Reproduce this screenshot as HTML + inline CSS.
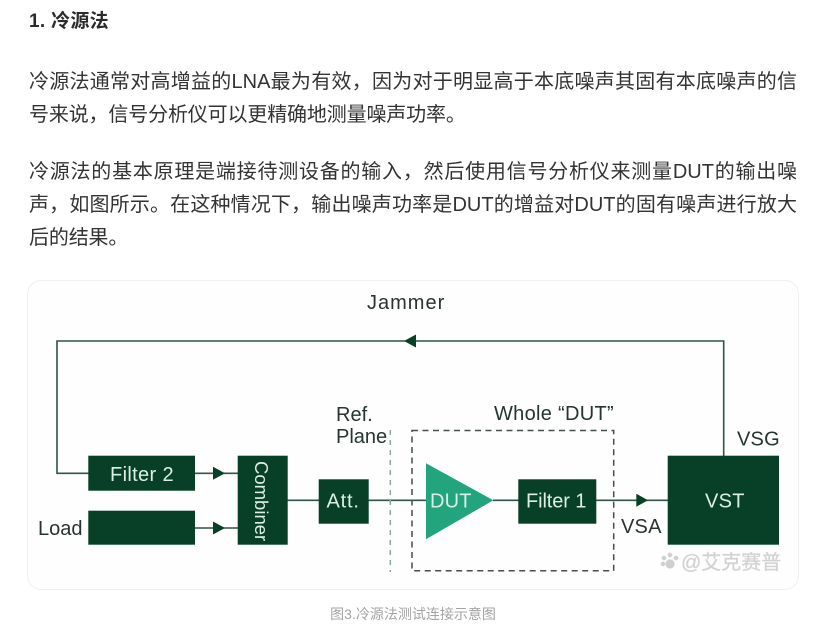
<!DOCTYPE html>
<html lang="zh">
<head>
<meta charset="utf-8">
<style>
html,body{margin:0;padding:0;background:#fff}
body{width:840px;height:637px;position:relative;overflow:hidden;font-family:"Liberation Sans","Noto Sans CJK SC",sans-serif;color:#333}
.t{position:absolute;left:29px;white-space:nowrap;font-size:20px;line-height:33px;letter-spacing:-.15px}
.j{width:768px;white-space:normal;letter-spacing:0;text-align:justify;text-align-last:justify}
.h{position:absolute;left:29px;top:5px;font-size:19px;line-height:33px;font-weight:bold;white-space:nowrap;color:#2b2b2b;letter-spacing:.3px}
.panel{position:absolute;left:27px;top:280px;box-sizing:border-box;width:772px;height:310px;border:1px solid #efefef;border-radius:14px;background:#fdfefd}
.cap{position:absolute;left:0;width:826px;top:604px;text-align:center;font-size:14px;line-height:20px;color:#a3a3a3;white-space:nowrap}
svg{position:absolute;left:0;top:0;filter:blur(.35px)}
svg text{font-family:"Liberation Sans","Noto Sans CJK SC",sans-serif}
</style>
</head>
<body>
<div class="h">1. 冷源法</div>
<div class="t j" style="top:66px">冷源法通常对高增益的LNA最为有效，因为对于明显高于本底噪声其固有本底噪声的信</div>
<div class="t" style="top:99px">号来说，信号分析仪可以更精确地测量噪声功率。</div>
<div class="t j" style="top:156px">冷源法的基本原理是端接待测设备的输入，然后使用信号分析仪来测量DUT的输出噪</div>
<div class="t j" style="top:189px">声，如图所示。在这种情况下，输出噪声功率是DUT的增益对DUT的固有噪声进行放大</div>
<div class="t" style="top:222px">后的结果。</div>
<div class="panel"></div>
<svg width="840" height="637" viewBox="0 0 840 637">
  <g fill="none" stroke="#2f5546" stroke-width="1.6">
    <path d="M723.7 456V341H57V473.3H89"/>
    <path d="M195 473.3H238M195 528H238M287 500.3H319M368 500.3H427M493 500.3H519M596 500.3H668"/>
  </g>
  <g fill="#073f27">
    <path d="M404 341L416 334.5V347.5Z"/>
    <path d="M225 473.3L213 466.8V479.8Z"/>
    <path d="M225 528L213 521.5V534.5Z"/>
    <path d="M648 500.3L636.3 493.8V506.8Z"/>
    <rect x="88.3" y="455.7" width="106.7" height="35"/>
    <rect x="88.3" y="510.7" width="106.7" height="34"/>
    <rect x="237.7" y="455.7" width="50" height="89"/>
    <rect x="318.7" y="479.3" width="50" height="44.4"/>
    <rect x="518.3" y="479.3" width="78" height="44.4"/>
    <rect x="667.7" y="455.7" width="111.3" height="89"/>
  </g>
  <path d="M426 463.3V539.3L493.3 500.3Z" fill="#22a57c"/>
  <line x1="390.3" y1="430" x2="390.3" y2="572" stroke="#8fa89d" stroke-width="1.5" stroke-dasharray="5 5"/>
  <rect x="412" y="430.5" width="201.7" height="140.3" fill="none" stroke="#454f4b" stroke-width="1.5" stroke-dasharray="6 4.5"/>
  <g font-size="20" fill="#dcefe6">
    <text x="110" y="481" letter-spacing=".35">Filter 2</text>
    <text x="326.5" y="507.5" letter-spacing=".8">Att.</text>
    <text x="430" y="507.5" letter-spacing=".2">DUT</text>
    <text x="526" y="507.5" letter-spacing="-.1">Filter 1</text>
    <text x="705" y="507.5" letter-spacing=".3">VST</text>
    <text transform="translate(255 461) rotate(90)" font-size="18.5" letter-spacing="0">Combiner</text>
  </g>
  <g font-size="20" fill="#26352f">
    <text x="367" y="309" letter-spacing="1">Jammer</text>
    <text x="336" y="421">Ref.</text>
    <text x="336" y="443">Plane</text>
    <text x="494" y="420" letter-spacing=".3">Whole “DUT”</text>
    <text x="737" y="445.5" letter-spacing=".2">VSG</text>
    <text x="621" y="533" letter-spacing=".2">VSA</text>
    <text x="38" y="535">Load</text>
  </g>
  <g font-size="20" fill="#cfcfcf" stroke="#dcdcdc" stroke-width=".5">
    <text x="681" y="569">@艾克赛普</text>
    <circle cx="670" cy="564" r="4.5"/>
    <circle cx="664" cy="558" r="2.2"/>
    <circle cx="670" cy="555" r="2.2"/>
    <circle cx="676" cy="558" r="2.2"/>
    <circle cx="663" cy="564" r="2.2"/>
  </g>
</svg>
<div class="cap">图3.冷源法测试连接示意图</div>
</body>
</html>
